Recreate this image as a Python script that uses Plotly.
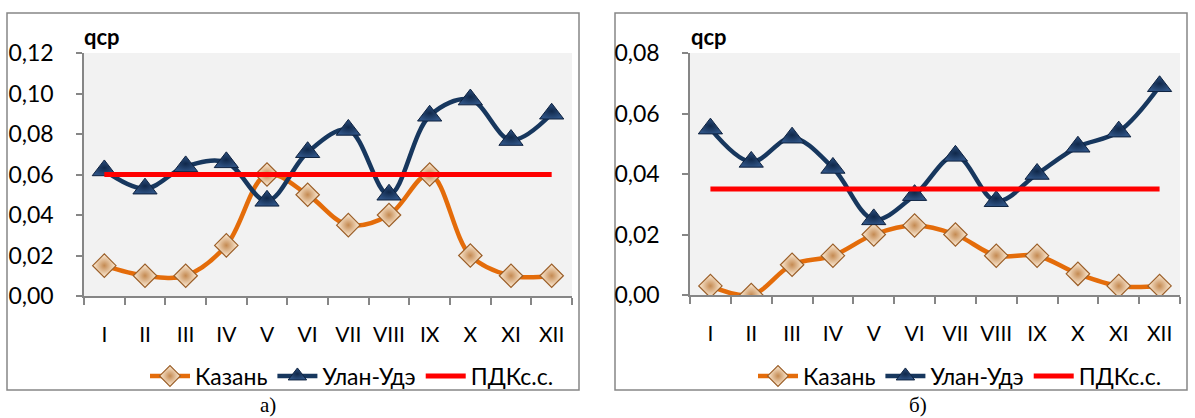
import plotly.graph_objects as go

months = ["I", "II", "III", "IV", "V", "VI", "VII", "VIII", "IX", "X", "XI", "XII"]

# panel а)
kazan_a = [0.015, 0.010, 0.010, 0.025, 0.060, 0.050, 0.035, 0.040, 0.060, 0.020, 0.010, 0.010]
ulan_a = [0.062, 0.053, 0.064, 0.066, 0.047, 0.071, 0.082, 0.050, 0.089, 0.097, 0.077, 0.090]
pdk_a = [0.06] * 12

# panel б)
kazan_b = [0.003, 0.000, 0.010, 0.013, 0.020, 0.023, 0.020, 0.013, 0.013, 0.007, 0.003, 0.003]
ulan_b = [0.055, 0.044, 0.052, 0.042, 0.025, 0.033, 0.046, 0.031, 0.040, 0.049, 0.054, 0.069]
pdk_b = [0.035] * 12

W, H = 1195, 418
FONT = "Lato"
ORANGE = "#E46C0A"
NAVY = "#17375E"
RED = "#FF0000"


def px(x):
    return x / W


def py(y):
    return 1 - y / H


fig = go.Figure()


def add_panel(kz, uu, pdk, xa, ya, legend):
    fig.add_trace(go.Scatter(
        x=months, y=kz, name="Казань", xaxis=xa, yaxis=ya, legend=legend,
        mode="lines+markers",
        line=dict(color=ORANGE, width=4.5, shape="spline", smoothing=1),
        marker=dict(symbol="diamond", size=18, color="#FFF0DC",
                    gradient=dict(type="radial", color="#C48A52"),
                    line=dict(color="#9A5E28", width=1.2)),
    ))
    fig.add_trace(go.Scatter(
        x=months, y=uu, name="Улан-Удэ", xaxis=xa, yaxis=ya, legend=legend,
        mode="lines+markers",
        line=dict(color=NAVY, width=4.5, shape="spline", smoothing=1),
        marker=dict(symbol="triangle-up", size=21, color="#2E5283",
                    gradient=dict(type="radial", color="#10284A"),
                    line=dict(color="#0E2240", width=1)),
    ))
    fig.add_trace(go.Scatter(
        x=months, y=pdk, name="ПДКс.с.", xaxis=xa, yaxis=ya, legend=legend,
        mode="lines", line=dict(color=RED, width=5),
    ))


add_panel(kazan_a, ulan_a, pdk_a, "x", "y", "legend")
add_panel(kazan_b, ulan_b, pdk_b, "x2", "y2", "legend2")

xcommon = dict(type="category", range=[-0.5, 11.5], showgrid=False, zeroline=False,
               showline=True, linecolor="#868686", linewidth=1.5, automargin=False,
               ticks="outside", tickson="boundaries", ticklen=7, tickcolor="#868686",
               tickwidth=1.5, ticklabelstandoff=19, tickangle=0,
               tickfont=dict(family=FONT, size=21, color="#000"),
               fixedrange=True)
ycommon = dict(showgrid=False, zeroline=False, showline=True, linecolor="#868686",
               linewidth=1.5, ticks="outside", ticklen=6, tickcolor="#868686", tickwidth=1.5,
               automargin=False, ticklabelstandoff=18,
               tickformat=".2f", tickfont=dict(family=FONT, size=23, color="#000"),
               fixedrange=True)

legcommon = dict(orientation="h", yanchor="middle", xanchor="center",
                 font=dict(family=FONT, size=23, color="#000"), bgcolor="rgba(0,0,0,0)",
                 itemwidth=40, tracegroupgap=0)

fig.update_layout(
    template="none",
    width=W, height=H, margin=dict(l=0, r=0, t=0, b=0, pad=0, autoexpand=False),
    paper_bgcolor="white", plot_bgcolor="#F2F2F2",
    separators=", ",
    xaxis=dict(domain=[px(84), px(572)], anchor="y", **xcommon),
    yaxis=dict(domain=[py(296), py(53)], anchor="x", range=[0, 0.12], dtick=0.02, **ycommon),
    xaxis2=dict(domain=[px(690), px(1180)], anchor="y2", **xcommon),
    yaxis2=dict(domain=[py(295), py(53)], anchor="x2", range=[0, 0.08], dtick=0.02, **ycommon),
    legend=dict(x=px(352), y=py(376), **legcommon),
    legend2=dict(x=px(960), y=py(376), **legcommon),
    shapes=[
        dict(type="rect", xref="paper", yref="paper", x0=px(7), x1=px(579), y0=py(390), y1=py(13),
             line=dict(color="#868686", width=1.5), layer="below"),
        dict(type="rect", xref="paper", yref="paper", x0=px(615), x1=px(1187), y0=py(390), y1=py(13),
             line=dict(color="#868686", width=1.5), layer="below"),
    ],
    annotations=[
        dict(text="<b>qср</b>", xref="paper", yref="paper", x=px(82), y=py(37),
             xanchor="left", yanchor="middle", showarrow=False,
             font=dict(family=FONT, size=22, color="#000")),
        dict(text="<b>qср</b>", xref="paper", yref="paper", x=px(689), y=py(37),
             xanchor="left", yanchor="middle", showarrow=False,
             font=dict(family=FONT, size=22, color="#000")),
        dict(text="а)", xref="paper", yref="paper", x=px(268), y=py(405),
             xanchor="center", yanchor="middle", showarrow=False,
             font=dict(family="Liberation Serif", size=21, color="#000")),
        dict(text="б)", xref="paper", yref="paper", x=px(918), y=py(405),
             xanchor="center", yanchor="middle", showarrow=False,
             font=dict(family="Liberation Serif", size=21, color="#000")),
    ],
)

fig.write_html("out.html")
